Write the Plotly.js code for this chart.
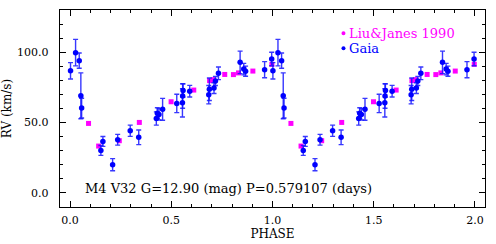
<!DOCTYPE html>
<html>
<head>
<meta charset="utf-8">
<script src="https://cdn.plot.ly/plotly-3.0.1.min.js"></script>
<style>html,body{margin:0;padding:0;background:#fff;}#chart{width:496px;height:244px;}</style>
</head>
<body>
<div id="chart"></div>
<script>
// Phase-folded data (one cycle, phase in [0,1)); plotted at phase and phase+1
const period = 0.579107;
const gaiaPhase = [0.002, 0.027, 0.045, 0.053, 0.057, 0.152, 0.162, 0.210, 0.235, 0.297, 0.339,
  0.426, 0.431, 0.439, 0.457, 0.527, 0.555, 0.556, 0.558, 0.591, 0.685, 0.688, 0.711, 0.718,
  0.733, 0.840, 0.858, 0.867, 0.961, 0.996];
const gaiaRV = [86.8, 99.7, 94.0, 69.0, 60.3, 30.2, 36.6, 20.1, 37.8, 44.2, 39.5,
  52.9, 56.7, 55.8, 59.4, 63.6, 64.0, 68.9, 72.8, 72.3, 69.8, 73.7, 74.5, 79.5,
  85.0, 92.8, 88.0, 86.5, 87.6, 95.2];
const gaiaErr = [5.8, 9.4, 5.4, 16.3, 7.0, 3.5, 3.5, 4.3, 3.8, 4.0, 5.2,
  4.7, 3.8, 4.0, 7.8, 6.5, 10.0, 8.7, 4.7, 4.1, 6.5, 8.0, 3.8, 3.2,
  4.5, 8.0, 4.1, 3.6, 5.7, 4.8];
const ljPhase = [0.091, 0.141, 0.243, 0.342, 0.499, 0.611, 0.689, 0.706, 0.764, 0.807, 0.832, 0.903, 0.997];
const ljRV = [49.4, 33.3, 37.1, 50.1, 64.8, 73.1, 79.8, 80.5, 84.2, 84.1, 85.3, 86.6, 91.4];
const xTicks = [0.0, 0.5, 1.0, 1.5, 2.0];
const yTicks = [0.0, 50.0, 100.0];
const labelText = 'M4 V32 G=12.90 (mag) P=' + period.toFixed(6) + ' (days)';
const legendNames = ['Liu&Janes 1990', 'Gaia'];

function twoCycles(p) { return p.concat(p.map(v => v + 1)); }
function twice(a) { return a.concat(a); }

const FONT = '"DejaVu Serif", "Liberation Serif", serif';
const BLUE = '#0000ff', MAG = '#ff00ff';

const traces = [
  {
    type: 'scatter', mode: 'markers', name: legendNames[0],
    x: twoCycles(ljPhase), y: twice(ljRV),
    marker: {symbol: 'square', size: 5, color: MAG},
    showlegend: false, hoverinfo: 'skip'
  },
  {
    type: 'scatter', mode: 'markers', name: legendNames[1],
    x: twoCycles(gaiaPhase), y: twice(gaiaRV),
    error_y: {type: 'data', array: twice(gaiaErr), visible: true, color: 'rgba(20,20,255,0.85)', thickness: 1.4, width: 2.5},
    marker: {symbol: 'circle', size: 5.5, color: BLUE},
    showlegend: false, hoverinfo: 'skip'
  }
];

const axisCommon = {
  showline: true, linecolor: '#000', linewidth: 1.2, mirror: 'allticks',
  ticks: 'inside', ticklen: 6, tickwidth: 1, tickcolor: '#000',
  showgrid: false, zeroline: false, tickformat: '.1f',
  tickfont: {family: FONT, size: 11, color: '#000'}
};

const layout = {
  width: 496, height: 244,
  margin: {l: 60, r: 11, t: 10, b: 37},
  paper_bgcolor: '#fff', plot_bgcolor: '#fff',
  showlegend: false,
  xaxis: Object.assign({}, axisCommon, {
    range: [-0.05, 2.05], tickmode: 'array', tickvals: xTicks,
    minor: {dtick: 0.1, tick0: 0, ticks: 'inside', ticklen: 3, tickcolor: '#000'},
    ticklabelstandoff: 3,
    title: {text: 'PHASE', font: {family: FONT, size: 12, color: '#000'}, standoff: 2}
  }),
  yaxis: Object.assign({}, axisCommon, {
    range: [-10, 130], tickmode: 'array', tickvals: yTicks,
    minor: {dtick: 10, tick0: 0, ticks: 'inside', ticklen: 3, tickcolor: '#000'},
    ticklabelstandoff: 8,
    title: {text: 'RV (km/s)', font: {family: FONT, size: 12, color: '#000'}, standoff: 6}
  }),
  annotations: [
    {xref: 'paper', yref: 'paper', x: 0.054, y: 0.096, xanchor: 'left', yanchor: 'middle',
     text: labelText, showarrow: false, font: {family: FONT, size: 13, color: '#000'}},
    {xref: 'paper', yref: 'paper', x: 0.675, y: 0.882, xanchor: 'left', yanchor: 'middle',
     text: legendNames[0], showarrow: false, font: {family: FONT, size: 13, color: MAG}},
    {xref: 'paper', yref: 'paper', x: 0.675, y: 0.806, xanchor: 'left', yanchor: 'middle',
     text: legendNames[1], showarrow: false, font: {family: FONT, size: 13, color: BLUE}}
  ],
  shapes: [
    {type: 'circle', xref: 'paper', yref: 'paper', xsizemode: 'pixel', ysizemode: 'pixel',
     xanchor: 0.667, yanchor: 0.882, x0: -2, x1: 2, y0: -2, y1: 2,
     fillcolor: MAG, line: {width: 0}},
    {type: 'circle', xref: 'paper', yref: 'paper', xsizemode: 'pixel', ysizemode: 'pixel',
     xanchor: 0.667, yanchor: 0.806, x0: -2, x1: 2, y0: -2, y1: 2,
     fillcolor: BLUE, line: {width: 0}}
  ]
};

Plotly.newPlot('chart', traces, layout, {staticPlot: true, displayModeBar: false});
</script>
</body>
</html>
